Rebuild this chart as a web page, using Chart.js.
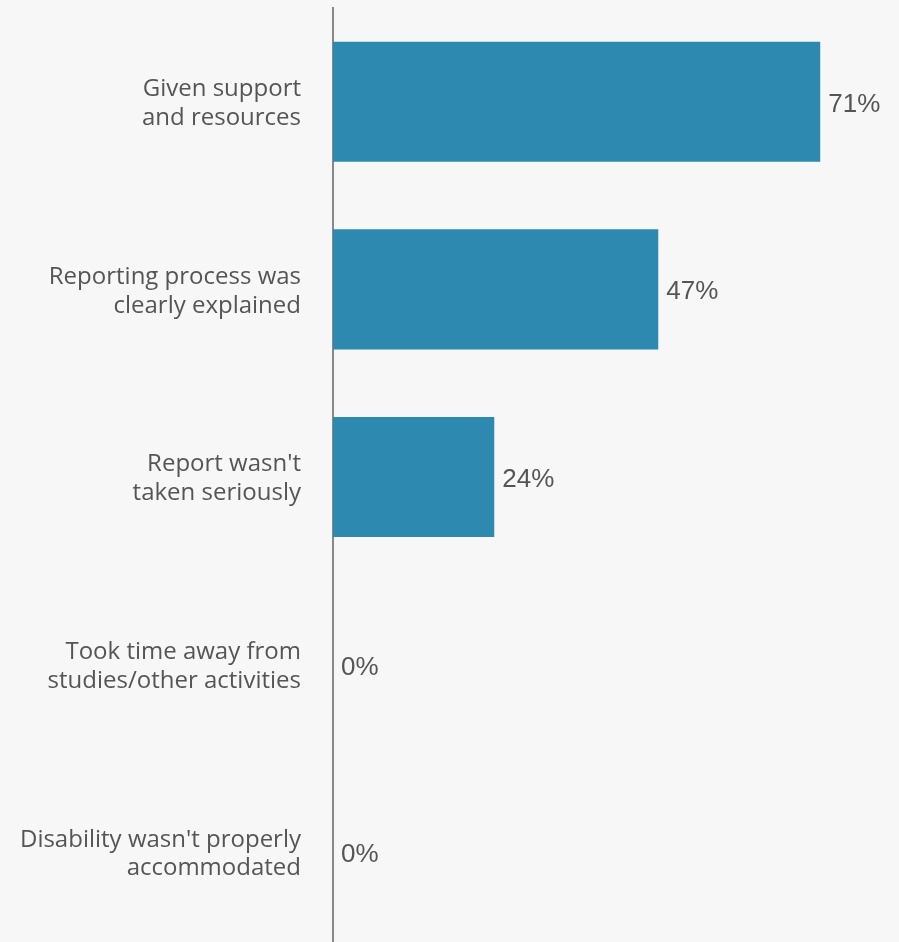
<!DOCTYPE html>
<html>
<head>
<meta charset="utf-8">
<script src="https://cdn.jsdelivr.net/npm/chart.js@4"></script>
<style>
  html, body { margin: 0; padding: 0; background: #f7f7f7; overflow: hidden; }
  #wrap { width: 899px; height: 946px; }
</style>
</head>
<body>
<div id="wrap"><canvas id="chart"></canvas></div>
<script>
// chart data
const categories = [
  ["Given support", "and resources"],
  ["Reporting process was", "clearly explained"],
  ["Report wasn't", "taken seriously"],
  ["Took time away from", "studies/other activities"],
  ["Disability wasn't properly", "accommodated"]
];
// bar lengths as drawn (labels show the rounded value)
const percentages = [71, 47.4, 23.5, 0, 0];

// value labels drawn at the end of each bar
const valueLabels = {
  id: "valueLabels",
  afterDatasetsDraw(chart) {
    const ctx = chart.ctx;
    const meta = chart.getDatasetMeta(0);
    ctx.save();
    ctx.font = "26px 'Liberation Sans', Arial, sans-serif";
    ctx.fillStyle = "#555555";
    ctx.textAlign = "left";
    ctx.textBaseline = "alphabetic";
    meta.data.forEach((bar, i) => {
      ctx.fillText(Math.round(percentages[i]) + "%", bar.x + 8, bar.y + 10);
    });
    ctx.restore();
  }
};

const ctx = document.getElementById("chart").getContext("2d");
new Chart(ctx, {
  type: "bar",
  data: {
    labels: categories,
    datasets: [{
      data: percentages,
      backgroundColor: "#2e89b0",
      borderWidth: 0,
      barPercentage: 0.8,
      categoryPercentage: 0.8
    }]
  },
  options: {
    indexAxis: "y",
    responsive: true,
    maintainAspectRatio: false,
    animation: false,
    layout: { padding: { top: 8, right: 17, bottom: 0, left: 0 } },
    plugins: {
      legend: { display: false },
      tooltip: { enabled: false }
    },
    scales: {
      x: { display: false, min: 0, max: 80 },
      y: {
        grid: { display: false, drawTicks: false },
        border: { display: true, color: "#888888", width: 2 },
        ticks: {
          padding: 32,
          labelOffset: 2,
          color: "#555555",
          font: { family: "'Open Sans', sans-serif", size: 24, lineHeight: 1.2 }
        },
        afterFit(scale) {
          scale.width = 333;
          scale.paddingTop = 0;
          scale.paddingBottom = 0;
        }
      }
    }
  },
  plugins: [valueLabels]
});
</script>
</body>
</html>
